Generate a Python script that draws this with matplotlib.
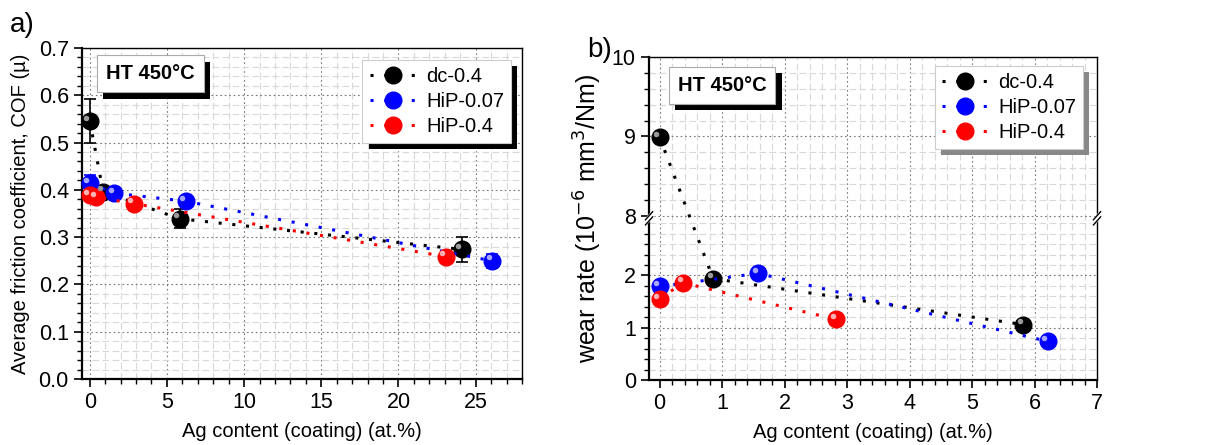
import matplotlib
matplotlib.use("Agg")
import matplotlib.pyplot as plt
import matplotlib.patheffects as pe
from matplotlib.transforms import ScaledTranslation
from matplotlib.ticker import MultipleLocator, FixedLocator
import numpy as np

plt.rcParams['font.family'] = ['Liberation Sans', 'DejaVu Sans']

# ---- datos (a) COF ----
series = ['dc-0.4', 'HiP-0.07', 'HiP-0.4']
colors = ['black', 'blue', 'red']
hi_colors = ['#9a9a9a', '#a8a8ff', '#ffb0b0']

cof_x = [[0, 0.87, 5.82, 24.1],
         [0, 1.6, 6.22, 26.05],
         [0, 0.4, 2.84, 23.05]]
cof_y = [[0.546, 0.396, 0.339, 0.274],
         [0.414, 0.393, 0.376, 0.250],
         [0.389, 0.385, 0.371, 0.259]]
cof_err = [[0.046, 0.0, 0.020, 0.027],
           [0.018, 0.0, 0.0, 0.015],
           [0.0, 0.0, 0.0, 0.0]]

# ---- datos (b) wear rate ----
wr_x = [[0, 0.855, 5.82],
        [0, 1.576, 6.21],
        [0, 0.374, 2.82]]
wr_y = [[8.99, 1.94, 1.06],
        [1.79, 2.04, 0.74],
        [1.55, 1.86, 1.16]]

# escala con corte en el eje y (0..L | 8..10)
L, S = 3.14, 1.52


def fwd(y):
    y = np.asarray(y, dtype=float)
    return np.where(y <= L, y, L + np.maximum(y - 8, 0) * S)


def inv(z):
    z = np.asarray(z, dtype=float)
    return np.where(z <= L, z, 8 + (z - L) / S)


fig = plt.figure(figsize=(12.15, 4.45), dpi=100)
axa = fig.add_axes([0.0675, 0.1483, 0.3621, 0.7438])
axb = fig.add_axes([0.5342, 0.1461, 0.3687, 0.7258])

ms = 12


def draw_series(ax, x, y, err, c, hc, label):
    if err is not None and any(e > 0 for e in err):
        xe = [xi for xi, e in zip(x, err) if e > 0]
        ye = [yi for yi, e in zip(y, err) if e > 0]
        ee = [e for e in err if e > 0]
        ax.errorbar(xe, ye, yerr=ee, fmt='none', ecolor=c, elinewidth=1.2,
                    capsize=4, capthick=1.2, zorder=4)
    ax.plot(x, y, linestyle=(0, (1.0, 3.5)), lw=2.2, color=c, marker='o',
            markersize=ms, markerfacecolor=c, markeredgecolor=c, label=label,
            zorder=5, clip_on=False)
    off = ax.transData + ScaledTranslation(-2.4 / 72, 2.4 / 72, fig.dpi_scale_trans)
    ax.plot(x, y, linestyle='none', marker='o', markersize=4,
            markerfacecolor=hc, markeredgecolor='none', transform=off,
            zorder=6, clip_on=False)


def style_axes(ax, ylabel, ylabel_size):
    ax.grid(which='major', color='#777777', linestyle=(0, (1.5, 2.5)), lw=0.8, zorder=1)
    ax.grid(which='minor', color='#d8d8d8', linestyle=(0, (6, 3)), lw=0.8, zorder=0)
    ax.set_axisbelow(True)
    ax.tick_params(which='both', direction='out', top=False, right=False,
                   labelsize=15.5, color='black')
    ax.tick_params(which='major', length=6, width=1.2)
    ax.tick_params(which='minor', length=3.5, width=1.0)
    for sp in ['left', 'bottom']:
        ax.spines[sp].set_linewidth(1.6)
    for sp in ['top', 'right']:
        ax.spines[sp].set_linewidth(1.0)
    ax.set_xlabel('Ag content (coating) (at.%)', fontsize=14.5, labelpad=6)
    ax.set_ylabel(ylabel, fontsize=ylabel_size, labelpad=6)


def ht_box(ax, x, y, shadow):
    t = ax.text(x, y, 'HT 450°C', transform=ax.transAxes, fontsize=14.5,
                fontweight='bold', ha='center', va='center', zorder=10,
                bbox=dict(boxstyle='square,pad=0.45', fc='white', ec='#aaaaaa', lw=0.8))
    t.get_bbox_patch().set_path_effects(
        [pe.SimplePatchShadow(offset=(4.5, -4.5), shadow_rgbFace=shadow, alpha=1), pe.Normal()])


def legend_box(ax, anchor, shadow):
    leg = ax.legend(loc='upper right', bbox_to_anchor=anchor, fontsize=14.5,
                    frameon=True, fancybox=False, framealpha=1, edgecolor='#cccccc',
                    handlelength=2.3, handletextpad=0.5, borderpad=0.35,
                    labelspacing=0.3, borderaxespad=0)
    leg.get_frame().set_linewidth(0.8)
    leg.get_frame().set_path_effects(
        [pe.SimplePatchShadow(offset=(4.5, -4.5), shadow_rgbFace=shadow, alpha=1), pe.Normal()])
    leg.set_zorder(10)


# ---- (a) ----
for i in range(3):
    draw_series(axa, cof_x[i], cof_y[i], cof_err[i], colors[i], hi_colors[i], series[i])
axa.set_xlim(-0.5, 28)
axa.set_ylim(0, 0.7)
axa.xaxis.set_major_locator(FixedLocator([0, 5, 10, 15, 20, 25]))
axa.xaxis.set_minor_locator(MultipleLocator(1))
axa.yaxis.set_major_locator(MultipleLocator(0.1))
axa.yaxis.set_minor_locator(MultipleLocator(0.02))
style_axes(axa, 'Average friction coefficient, COF (µ)', 14.5)
ht_box(axa, 0.155, 0.922, 'black')
legend_box(axa, (0.975, 0.964), 'black')

# ---- (b) ----
axb.set_yscale('function', functions=(fwd, inv))
for i in range(3):
    draw_series(axb, wr_x[i], wr_y[i], None, colors[i], hi_colors[i], series[i])
axb.set_xlim(-0.17, 7)
axb.set_ylim(0, 10)
axb.xaxis.set_major_locator(MultipleLocator(1))
axb.xaxis.set_minor_locator(MultipleLocator(0.2))
axb.yaxis.set_major_locator(FixedLocator([0, 1, 2, 8, 9, 10]))
axb.yaxis.set_minor_locator(FixedLocator(list(np.arange(0.2, 3.05, 0.2)) +
                                         list(np.arange(8.2, 9.95, 0.2))))
style_axes(axb, 'wear rate (10$^{-6}$ mm$^3$/Nm)', 18)
ht_box(axb, 0.163, 0.912, 'black')
legend_box(axb, (0.969, 0.972), '#888888')

# marcas de corte
yb = float(fwd(8.0)) / float(fwd(10.0))
for xb in (0, 1):
    axb.plot([xb - 0.008, xb + 0.008], [yb - 0.02, yb + 0.005], transform=axb.transAxes,
             color='white', lw=4, clip_on=False, zorder=20)
    axb.plot([xb - 0.008, xb + 0.008], [yb - 0.028, yb - 0.003], transform=axb.transAxes,
             color='black', lw=1.0, clip_on=False, zorder=21)
    axb.plot([xb - 0.008, xb + 0.008], [yb - 0.012, yb + 0.013], transform=axb.transAxes,
             color='black', lw=1.0, clip_on=False, zorder=21)

fig.text(0.008, 0.944, 'a)', fontsize=20, ha='left', va='center')
fig.text(0.483, 0.888, 'b)', fontsize=20, ha='left', va='center')

fig.savefig('out.png', dpi=100)
